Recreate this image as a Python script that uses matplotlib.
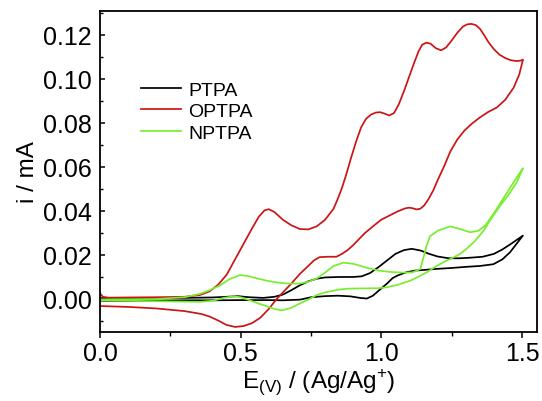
import matplotlib
matplotlib.use("Agg")
import matplotlib.pyplot as plt
from matplotlib.ticker import MultipleLocator

plt.rcParams['font.family'] = ['Liberation Sans', 'DejaVu Sans']

# ---------------- data ----------------
# PTPA (black)
ptpa_fwd_E = [0.000, 0.100, 0.200, 0.300, 0.400, 0.450, 0.490, 0.530, 0.580, 0.620,
              0.650, 0.680, 0.710, 0.740, 0.770, 0.800, 0.850, 0.900, 0.930, 0.960,
              0.990, 1.020, 1.050, 1.080, 1.108, 1.140, 1.170, 1.200, 1.240, 1.280,
              1.320, 1.360, 1.400, 1.430, 1.460, 1.485, 1.503]
ptpa_fwd_i = [0.0004, 0.0004, 0.0004, 0.0005, 0.0007, 0.0010, 0.0013, 0.0008, 0.0005, 0.0010,
              0.0020, 0.0040, 0.0062, 0.0080, 0.0092, 0.0098, 0.0100, 0.0100, 0.0103, 0.0118,
              0.0145, 0.0175, 0.0205, 0.0222, 0.0228, 0.0220, 0.0205, 0.0193, 0.0185, 0.0185,
              0.0188, 0.0192, 0.0205, 0.0225, 0.0250, 0.0272, 0.0288]
ptpa_rev_E = [1.503, 1.480, 1.457, 1.430, 1.398, 1.350, 1.300, 1.250, 1.200, 1.161,
              1.120, 1.090, 1.060, 1.040, 1.020, 0.995, 0.970, 0.948, 0.924, 0.890,
              0.845, 0.800, 0.750, 0.711, 0.650, 0.600, 0.500, 0.400, 0.300, 0.200,
              0.100, 0.000]
ptpa_rev_i = [0.0288, 0.0250, 0.0212, 0.0180, 0.0158, 0.0150, 0.0146, 0.0141, 0.0137, 0.0133,
              0.0129, 0.0122, 0.0108, 0.0095, 0.0070, 0.0043, 0.0015, 0.0002, 0.0005, 0.0012,
              0.0015, 0.0013, 0.0008, -0.0003, -0.0006, -0.0005, -0.0005, -0.0006, -0.0006, -0.0007,
              -0.0008, -0.0008]

# OPTPA (red)
optpa_fwd_E = [0.000, 0.010, 0.030, 0.100, 0.200, 0.300, 0.355, 0.390, 0.420, 0.450,
               0.480, 0.510, 0.540, 0.565, 0.585, 0.600, 0.620, 0.650, 0.680, 0.710,
               0.740, 0.770, 0.800, 0.830, 0.845, 0.860, 0.875, 0.892, 0.910, 0.928,
               0.945, 0.963, 0.980, 0.995, 1.010, 1.028, 1.045, 1.062, 1.082, 1.100,
               1.117, 1.132, 1.145, 1.160, 1.175, 1.193, 1.212, 1.230, 1.250, 1.270,
               1.290, 1.305, 1.320, 1.335, 1.350, 1.365, 1.380, 1.400, 1.420, 1.440,
               1.460, 1.480, 1.495, 1.503]
optpa_fwd_i = [0.0026, 0.0010, 0.0006, 0.0007, 0.0008, 0.0010, 0.0018, 0.0035, 0.0065, 0.0110,
               0.0180, 0.0250, 0.0320, 0.0375, 0.0403, 0.0408, 0.0395, 0.0360, 0.0335, 0.0318,
               0.0316, 0.0330, 0.0360, 0.0410, 0.0455, 0.0505, 0.0565, 0.0640, 0.0715, 0.0780,
               0.0818, 0.0838, 0.0847, 0.0849, 0.0843, 0.0834, 0.0845, 0.0885, 0.0950, 0.1015,
               0.1075, 0.1125, 0.1155, 0.1165, 0.1160, 0.1140, 0.1130, 0.1143, 0.1175, 0.1210,
               0.1238, 0.1248, 0.1250, 0.1245, 0.1228, 0.1200, 0.1168, 0.1135, 0.1110, 0.1095,
               0.1085, 0.1081, 0.1083, 0.1088]
optpa_rev_E = [1.503, 1.490, 1.470, 1.440, 1.410, 1.380, 1.350, 1.320, 1.295, 1.270,
               1.245, 1.224, 1.200, 1.185, 1.168, 1.152, 1.138, 1.125, 1.112, 1.100,
               1.085, 1.058, 1.030, 0.999, 0.970, 0.940, 0.900, 0.880, 0.860, 0.840,
               0.810, 0.780, 0.760, 0.740, 0.711, 0.680, 0.650, 0.628, 0.600, 0.570,
               0.540, 0.510, 0.480, 0.450, 0.420, 0.390, 0.360, 0.300, 0.200, 0.100,
               0.000]
optpa_rev_i = [0.1086, 0.1020, 0.0960, 0.0905, 0.0870, 0.0850, 0.0825, 0.0795, 0.0765, 0.0725,
               0.0670, 0.0606, 0.0540, 0.0495, 0.0455, 0.0425, 0.0410, 0.0407, 0.0412, 0.0415,
               0.0412, 0.0398, 0.0380, 0.0360, 0.0330, 0.0298, 0.0245, 0.0222, 0.0205, 0.0192,
               0.0192, 0.0190, 0.0175, 0.0150, 0.0115, 0.0070, 0.0030, 0.0000, -0.0045, -0.0085,
               -0.0110, -0.0123, -0.0127, -0.0118, -0.0098, -0.0080, -0.0068, -0.0055, -0.0043, -0.0036,
               -0.0032]

# NPTPA (green)
nptpa_fwd_E = [0.000, 0.100, 0.200, 0.300, 0.355, 0.390, 0.427, 0.460, 0.498, 0.530,
               0.560, 0.593, 0.630, 0.670, 0.711, 0.740, 0.770, 0.800, 0.830, 0.865,
               0.900, 0.948, 0.995, 1.040, 1.080, 1.110, 1.138, 1.150, 1.160, 1.173,
               1.200, 1.244, 1.280, 1.315, 1.345, 1.370, 1.400, 1.430, 1.460, 1.485,
               1.503]
nptpa_fwd_i = [-0.0002, -0.0001, 0.0000, 0.0008, 0.0023, 0.0040, 0.0062, 0.0090, 0.0109, 0.0103,
               0.0093, 0.0083, 0.0075, 0.0070, 0.0070, 0.0078, 0.0093, 0.0120, 0.0150, 0.0165,
               0.0160, 0.0142, 0.0128, 0.0122, 0.0120, 0.0121, 0.0136, 0.0190, 0.0240, 0.0285,
               0.0310, 0.0330, 0.0318, 0.0303, 0.0310, 0.0335, 0.0390, 0.0450, 0.0510, 0.0560,
               0.0594]
nptpa_rev_E = [1.503, 1.481, 1.450, 1.422, 1.390, 1.363, 1.330, 1.300, 1.280, 1.250,
               1.220, 1.190, 1.161, 1.130, 1.102, 1.060, 1.019, 0.990, 0.930, 0.880,
               0.845, 0.800, 0.770, 0.740, 0.711, 0.680, 0.646, 0.620, 0.590, 0.569,
               0.530, 0.500, 0.474, 0.440, 0.400, 0.355, 0.300, 0.200, 0.100, 0.000]
nptpa_rev_i = [0.0594, 0.0530, 0.0470, 0.0424, 0.0365, 0.0310, 0.0260, 0.0225, 0.0205, 0.0185,
               0.0167, 0.0145, 0.0121, 0.0100, 0.0083, 0.0065, 0.0053, 0.0049, 0.0048, 0.0047,
               0.0042, 0.0030, 0.0018, -0.0003, -0.0020, -0.0040, -0.0052, -0.0045, -0.0032, -0.0023,
               -0.0005, 0.0008, 0.0012, 0.0005, -0.0008, -0.0013, -0.0012, -0.0010, -0.0008, -0.0006]

labels = ['PTPA', 'OPTPA', 'NPTPA']
x_ticks = [0.0, 0.5, 1.0, 1.5]
y_ticks = [0.00, 0.02, 0.04, 0.06, 0.08, 0.10, 0.12]

# ---------------- figure ----------------
fig = plt.figure(figsize=(5.42, 4.02), dpi=100)
ax = fig.add_axes([100 / 542, 1 - 333 / 402, 436.7 / 542, 321.3 / 402])

colors = ['#000000', '#cc1414', '#77ee2e']
series = [
    (ptpa_fwd_E + ptpa_rev_E, ptpa_fwd_i + ptpa_rev_i),
    (optpa_fwd_E + optpa_rev_E, optpa_fwd_i + optpa_rev_i),
    (nptpa_fwd_E + nptpa_rev_E, nptpa_fwd_i + nptpa_rev_i),
]
for (E, i), c, lab in zip(series, colors, labels):
    ax.plot(E, i, color=c, lw=1.25, label=lab, solid_joinstyle='round')

ax.set_xlim(0.0, 1.552)
ax.set_ylim(-0.015, 0.131)
ax.set_xticks(x_ticks)
ax.set_xticklabels([f'{v:.1f}' for v in x_ticks])
ax.set_yticks(y_ticks)
ax.set_yticklabels([f'{v:.2f}' for v in y_ticks])
ax.xaxis.set_minor_locator(MultipleLocator(0.25))
ax.yaxis.set_minor_locator(MultipleLocator(0.01))

ax.tick_params(axis='x', which='major', direction='out', length=4.3, width=1.1,
               labelsize=18, pad=2.5)
ax.tick_params(axis='x', which='minor', direction='out', length=2.6, width=1.0)
ax.tick_params(axis='y', which='major', direction='in', length=3.8, width=1.1,
               labelsize=18, pad=6.0)
ax.tick_params(axis='y', which='minor', direction='in', length=2.3, width=1.0)
ax.tick_params(top=False, right=False, which='both')

for s in ax.spines.values():
    s.set_linewidth(1.3)

ax.set_xlabel(r'E$_{\mathregular{(V)}}$ / (Ag/Ag$^{\mathregular{+}}$)', fontsize=17.5, labelpad=1)
ax.set_ylabel('i / mA', fontsize=17.5, labelpad=3)

ax.legend(loc='upper left', bbox_to_anchor=(0.093, 0.781), frameon=False,
          fontsize=14, handlelength=2.1, handletextpad=0.35, labelspacing=0.2,
          borderpad=0, borderaxespad=0)

fig.savefig('out.png', dpi=100)
